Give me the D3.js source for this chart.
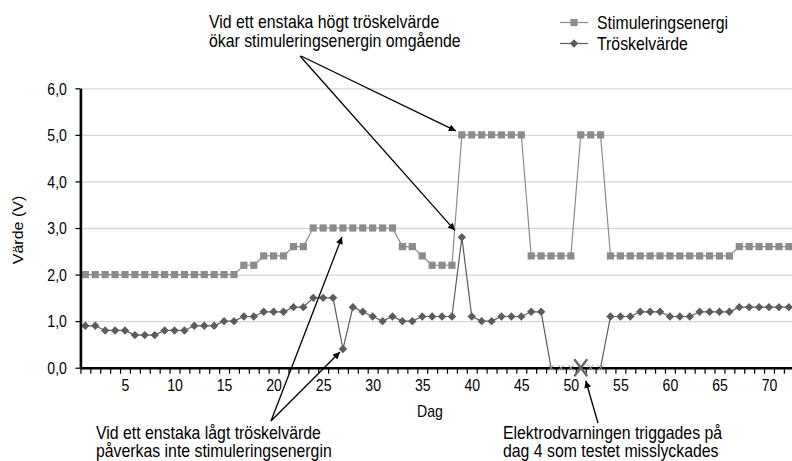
<!DOCTYPE html>
<html><head><meta charset="utf-8">
<script src="https://cdn.jsdelivr.net/npm/d3@7"></script>
<style>
html,body{margin:0;padding:0;background:#fff;overflow:hidden}
svg{display:block}
text{font-family:"Liberation Sans",Arial,Helvetica,sans-serif;fill:#000}
</style>
</head><body>
<svg id="chart" width="792" height="461"></svg>
<script>
// ---------------- data ----------------
const days = [1,2,3,4,5,6,7,8,9,10,11,12,13,14,15,16,17,18,19,20,21,22,23,24,25,26,27,28,29,30,
  31,32,33,34,35,36,37,38,39,40,41,42,43,44,45,46,47,48,49,50,51,52,53,54,55,56,57,58,59,60,
  61,62,63,64,65,66,67,68,69,70,71,72,73];
const stimulation = [2.0,2.0,2.0,2.0,2.0,2.0,2.0,2.0,2.0,2.0,2.0,2.0,2.0,2.0,2.0,2.0,2.2,2.2,2.4,2.4,
  2.4,2.6,2.6,3.0,3.0,3.0,3.0,3.0,3.0,3.0,3.0,3.0,2.6,2.6,2.4,2.2,2.2,2.2,5.0,5.0,
  5.0,5.0,5.0,5.0,5.0,2.4,2.4,2.4,2.4,2.4,5.0,5.0,5.0,2.4,2.4,2.4,2.4,2.4,2.4,2.4,
  2.4,2.4,2.4,2.4,2.4,2.4,2.6,2.6,2.6,2.6,2.6,2.6,2.6];
const threshold = [0.9,0.9,0.8,0.8,0.8,0.7,0.7,0.7,0.8,0.8,0.8,0.9,0.9,0.9,1.0,1.0,1.1,1.1,1.2,1.2,
  1.2,1.3,1.3,1.5,1.5,1.5,0.4,1.3,1.2,1.1,1.0,1.1,1.0,1.0,1.1,1.1,1.1,1.1,2.8,1.1,
  1.0,1.0,1.1,1.1,1.1,1.2,1.2,0.0,0.0,0.0,0.0,0.0,0.0,1.1,1.1,1.1,1.2,1.2,1.2,1.1,
  1.1,1.1,1.2,1.2,1.2,1.2,1.3,1.3,1.3,1.3,1.3,1.3,1.3];
const failedDays = [48,49,50,51,52,53];
const alertDay = 51;
const yTicks = [0,1,2,3,4,5,6];
const xTickLabels = [5,10,15,20,25,30,35,40,45,50,55,60,65,70];
const seriesNames = ["Stimuleringsenergi","Tröskelvärde"];
const yTitle = "Värde (V)";
const xTitle = "Dag";
const noteHigh = ["Vid ett enstaka högt tröskelvärde","ökar stimuleringsenergin omgående"];
const noteLow = ["Vid ett enstaka lågt tröskelvärde","påverkas inte stimuleringsenergin"];
const noteAlert = ["Elektrodvarningen triggades på","dag 4 som testet misslyckades"];

// ---------------- layout ----------------
const W = 792, H = 461;
const SX = 0.88; // horizontal squeeze of the type
const plotLeft = 80.4, dayW = 9.908, plotBottom = 367.7, plotTop = 88.3;
const stimColor = "#8c8c8c", thrColor = "#5c5c5c";

const svg = d3.select("#chart");
const x = d3.scaleLinear().domain([0.5, days.length + 0.5]).range([plotLeft, plotLeft + days.length * dayW]);
const y = d3.scaleLinear().domain([0, 6]).range([plotBottom, plotTop]);

function txt(g, px, py, s, size, anchor) {
  return g.append("text")
    .attr("transform", `translate(${px},${py}) scale(${SX},1)`)
    .attr("font-size", size).attr("text-anchor", anchor || "start").text(s);
}

// gridlines
const grid = svg.append("g").attr("transform", `translate(${plotLeft},0)`)
  .call(d3.axisLeft(y).tickValues(yTicks.slice(1)).tickSize(-(W - plotLeft)).tickFormat(""));
grid.select(".domain").remove();
grid.selectAll("line").attr("stroke", "#d6d6d6").attr("stroke-width", 1.3);

// series lines
const stimData = days.map((d, i) => ({day: d, v: stimulation[i]}));
const thrData = days.map((d, i) => ({day: d, v: threshold[i]}));
const line = d3.line().x(d => x(d.day)).y(d => y(d.v));

svg.append("path").datum(stimData).attr("d", line)
  .attr("fill", "none").attr("stroke", stimColor).attr("stroke-width", 1.2);
svg.append("path").datum(thrData).attr("d", line)
  .attr("fill", "none").attr("stroke", thrColor).attr("stroke-width", 1.2);

// stim squares
svg.append("g").selectAll("rect").data(stimData).join("rect")
  .attr("x", d => x(d.day) - 3.6).attr("y", d => y(d.v) - 3.6)
  .attr("width", 7.2).attr("height", 7.2).attr("fill", stimColor);

// threshold diamonds (not on failed days)
const diamond = "M0,-4.2L4.2,0L0,4.2L-4.2,0Z";
svg.append("g").selectAll("path").data(thrData.filter(d => !failedDays.includes(d.day))).join("path")
  .attr("transform", d => `translate(${x(d.day)},${y(d.v)})`)
  .attr("d", diamond).attr("fill", thrColor);

// axes
const xAxisTicks = svg.append("g").attr("transform", `translate(0,${plotBottom})`)
  .call(d3.axisBottom(x).tickValues(d3.range(0.5, days.length + 1, 1)).tickSize(6).tickSizeOuter(0).tickFormat(""));
xAxisTicks.select(".domain").attr("stroke", "#000").attr("stroke-width", 2.6);
xAxisTicks.selectAll(".tick line").attr("stroke", "#000").attr("stroke-width", 1.2);

const xAxisLabels = svg.append("g").attr("transform", `translate(0,${plotBottom})`)
  .call(d3.axisBottom(x).tickValues(xTickLabels).tickSize(0).tickFormat(d => d));
xAxisLabels.select(".domain").remove();
xAxisLabels.selectAll("text").attr("y", null).attr("dy", null)
  .attr("transform", `translate(0,23) scale(${SX},1)`)
  .attr("font-size", 16).attr("fill", "#000")
  .style("font-family", '"Liberation Sans",Arial,sans-serif');

const yAxis = svg.append("g").attr("transform", `translate(${plotLeft},0)`)
  .call(d3.axisLeft(y).tickValues(yTicks).tickSize(5).tickSizeOuter(0)
    .tickFormat(d => d3.format(".1f")(d).replace(".", ",")));
yAxis.select(".domain").attr("stroke", "#000").attr("stroke-width", 2.6);
yAxis.selectAll(".tick line").attr("stroke", "#000").attr("stroke-width", 1.2);
yAxis.selectAll("text").attr("x", null).attr("dy", "0.36em")
  .attr("transform", `translate(-13.5,0) scale(${SX},1)`)
  .attr("font-size", 16).attr("fill", "#000")
  .style("font-family", '"Liberation Sans",Arial,sans-serif');

// failed measurements on the axis
const fx = svg.append("g");
failedDays.filter(d => d !== alertDay).forEach(d => {
  const cx = x(d), cy = y(0);
  fx.append("path").attr("d", `M${cx-3},${cy-3}L${cx+3},${cy+3}M${cx-3},${cy+3}L${cx+3},${cy-3}`)
    .attr("stroke", "#9a9a9a").attr("stroke-width", 1);
});
{
  const cx = x(alertDay), cy = y(0);
  fx.append("path").attr("d", `M${cx-6.5},${cy-8.5}L${cx+6.5},${cy+8.5}M${cx-6.5},${cy+8.5}L${cx+6.5},${cy-8.5}`)
    .attr("stroke", "#666").attr("stroke-width", 2.4);
}

// axis titles
svg.append("text").attr("transform", `translate(23,230) rotate(-90) scale(1,${SX})`)
  .attr("font-size", 16).attr("text-anchor", "middle").text(yTitle);
txt(svg, 430, 417, xTitle, 16, "middle");

// legend
const lg = svg.append("g");
[[stimColor, 22.5, 28.5, "sq"], [thrColor, 43.5, 49.5, "di"]].forEach((c, i) => {
  lg.append("line").attr("x1", 560).attr("x2", 588).attr("y1", c[1]).attr("y2", c[1])
    .attr("stroke", c[0]).attr("stroke-width", 1.2);
  if (c[3] === "sq") lg.append("rect").attr("x", 574 - 3.6).attr("y", c[1] - 3.6).attr("width", 7.2).attr("height", 7.2).attr("fill", c[0]);
  else lg.append("path").attr("transform", `translate(574,${c[1]})`).attr("d", diamond).attr("fill", c[0]);
  txt(lg, 597, c[2], seriesNames[i], 18);
});

// annotations
const defs = svg.append("defs");
defs.append("marker").attr("id", "ah").attr("viewBox", "0 0 10 10").attr("refX", 10).attr("refY", 5)
  .attr("markerWidth", 10).attr("markerHeight", 7).attr("markerUnits", "userSpaceOnUse").attr("orient", "auto")
  .append("path").attr("d", "M0,0L10,5L0,10Z").attr("fill", "#000");

function arrow(x1, y1, x2, y2) {
  svg.append("line").attr("x1", x1).attr("y1", y1).attr("x2", x2).attr("y2", y2)
    .attr("stroke", "#000").attr("stroke-width", 1.3).attr("marker-end", "url(#ah)");
}
const an = svg.append("g");
txt(an, 209, 28, noteHigh[0], 18);
txt(an, 209, 46.5, noteHigh[1], 18);
arrow(301, 56, x(39) - 6, y(5) - 4);
arrow(300, 56, x(39) - 7, y(2.8) - 7);

txt(an, 96, 438.5, noteLow[0], 18);
txt(an, 96, 457, noteLow[1], 18);
arrow(271, 421, x(27) - 1, y(3.0) + 9);
arrow(271, 421, x(27) - 3, y(0.4) + 3);

txt(an, 503, 438.5, noteAlert[0], 18);
txt(an, 503, 457, noteAlert[1], 18);
arrow(598, 423, x(alertDay) + 5, y(0) + 13);
</script>
</body></html>
